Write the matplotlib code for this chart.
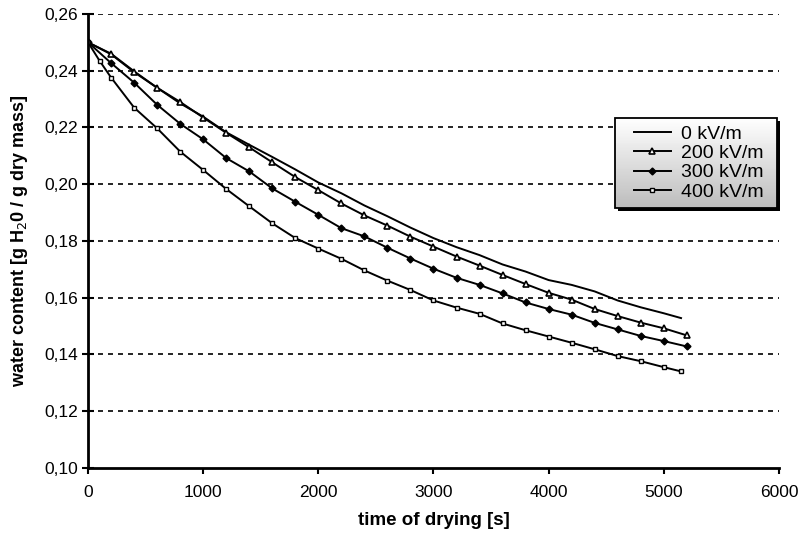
import numpy as np
import matplotlib
matplotlib.use("Agg")
import matplotlib.pyplot as plt
from matplotlib.ticker import FuncFormatter
from matplotlib.patches import Rectangle

plt.rcParams['font.family'] = ['Liberation Sans', 'DejaVu Sans']

# time of drying [s]
t_0kv = [0, 200, 400, 600, 800, 1000, 1200, 1400, 1600, 1800, 2000, 2200, 2400, 2600,
         2800, 3000, 3200, 3400, 3600, 3800, 4000, 4200, 4400, 4600, 4800, 5000, 5150]
w_0kv = [0.250, 0.2460, 0.2398, 0.2340, 0.2285, 0.2238, 0.2183, 0.2139, 0.2096, 0.2052,
         0.2006, 0.1968, 0.1925, 0.1887, 0.1847, 0.1810, 0.1778, 0.1750, 0.1717, 0.1692,
         0.1662, 0.1645, 0.1622, 0.1590, 0.1566, 0.1545, 0.1528]

t_200kv = [0, 200, 400, 600, 800, 1000, 1200, 1400, 1600, 1800, 2000, 2200, 2400, 2600,
           2800, 3000, 3200, 3400, 3600, 3800, 4000, 4200, 4400, 4600, 4800, 5000, 5200]
w_200kv = [0.250, 0.2458, 0.2395, 0.2340, 0.2290, 0.2235, 0.2181, 0.2130, 0.2077, 0.2025,
           0.1979, 0.1932, 0.1890, 0.1854, 0.1815, 0.1780, 0.1745, 0.1713, 0.1680, 0.1648,
           0.1617, 0.1593, 0.1560, 0.1535, 0.1512, 0.1492, 0.1467]

t_300kv = [0, 200, 400, 600, 800, 1000, 1200, 1400, 1600, 1800, 2000, 2200, 2400, 2600,
           2800, 3000, 3200, 3400, 3600, 3800, 4000, 4200, 4400, 4600, 4800, 5000, 5200]
w_300kv = [0.250, 0.2427, 0.2358, 0.2280, 0.2213, 0.2158, 0.2092, 0.2045, 0.1985, 0.1938,
           0.1892, 0.1845, 0.1816, 0.1776, 0.1738, 0.1702, 0.1670, 0.1645, 0.1615, 0.1583,
           0.1560, 0.1540, 0.1511, 0.1488, 0.1465, 0.1447, 0.1428]

t_400kv = [0, 100, 200, 400, 600, 800, 1000, 1200, 1400, 1600, 1800, 2000, 2200, 2400, 2600,
           2800, 3000, 3200, 3400, 3600, 3800, 4000, 4200, 4400, 4600, 4800, 5000, 5150]
w_400kv = [0.250, 0.2435, 0.2376, 0.2270, 0.2197, 0.2115, 0.2050, 0.1983, 0.1922, 0.1862,
           0.1810, 0.1773, 0.1737, 0.1696, 0.1660, 0.1627, 0.1590, 0.1565, 0.1543, 0.1509,
           0.1485, 0.1463, 0.1441, 0.1418, 0.1394, 0.1376, 0.1355, 0.1340]

fig = plt.figure(figsize=(8.08, 5.39), dpi=100)
ax = fig.add_axes([0.109, 0.132, 0.855, 0.842])

ax.plot(t_0kv, w_0kv, color='black', lw=1.4, label='0 kV/m')
ax.plot(t_200kv, w_200kv, color='black', lw=1.4, marker='^', ms=5,
        mfc='white', mec='black', mew=1.2, label='200 kV/m')
ax.plot(t_300kv, w_300kv, color='black', lw=1.4, marker='D', ms=3.5,
        mfc='black', mec='black', label='300 kV/m')
ax.plot(t_400kv, w_400kv, color='black', lw=1.4, marker='s', ms=3.5,
        mfc='white', mec='black', mew=1.0, label='400 kV/m')

ax.set_xlim(0, 6000)
ax.set_ylim(0.10, 0.26)
ax.set_xticks(np.arange(0, 6001, 1000))
ax.set_yticks(np.arange(0.10, 0.2601, 0.02))
ax.yaxis.set_major_formatter(FuncFormatter(lambda v, p: f"{v:.2f}".replace('.', ',')))

for y in np.arange(0.12, 0.2601, 0.02):
    ax.axhline(y, color='black', lw=1.2, ls=(0, (3, 3)), zorder=0)

for s in ['top', 'right']:
    ax.spines[s].set_visible(False)
ax.spines['left'].set_linewidth(2)
ax.spines['bottom'].set_linewidth(2)
ax.tick_params(axis='y', direction='inout', length=8, width=1.5, labelsize=12.5)
ax.tick_params(axis='x', direction='out', length=4, width=1.5, labelsize=12.5, pad=8)

ax.set_xlabel('time of drying [s]', fontsize=13.5, fontweight='bold', labelpad=9)
ax.set_ylabel('water content [g H$_2$0 / g dry mass]', fontsize=13, fontweight='bold', labelpad=10)

# legend box: gradient fill, black border, drop shadow
bx0, bx1, by0, by1 = 0.7627, 0.9971, 0.5727, 0.7709
dx = 3 / ax.bbox.width
dy = 3 / ax.bbox.height
ax.add_patch(Rectangle((bx0 + dx, by0 - dy), bx1 - bx0, by1 - by0, transform=ax.transAxes,
                       facecolor='black', edgecolor='none', zorder=4.7, clip_on=False))
grad = np.linspace(1.0, 0.74, 64).reshape(-1, 1)
ax.imshow(grad, cmap='gray', vmin=0, vmax=1, aspect='auto',
          extent=(bx0, bx1, by0, by1), transform=ax.transAxes, zorder=4.8)
ax.add_patch(Rectangle((bx0, by0), bx1 - bx0, by1 - by0, transform=ax.transAxes,
                       facecolor='none', edgecolor='black', lw=1.3, zorder=4.9, clip_on=False))

leg = ax.legend(loc='center left', bbox_to_anchor=(bx0 + 19 / ax.bbox.width, (by0 + by1) / 2),
                fontsize=14, frameon=False, handlelength=1.9, borderpad=0,
                labelspacing=0.08, handletextpad=0.5, borderaxespad=0)
leg.set_zorder(6)

ax.set_xlim(0, 6000)
ax.set_ylim(0.10, 0.26)

fig.savefig('out.png', dpi=100)
